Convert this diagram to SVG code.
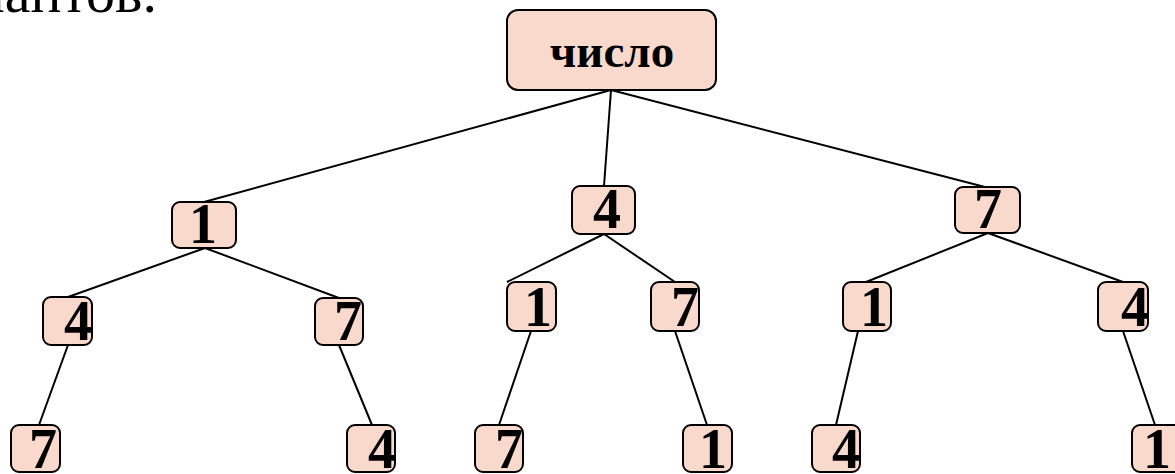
<svg xmlns="http://www.w3.org/2000/svg" width="1175" height="474" viewBox="0 0 1175 474">
  <style>
    .box { fill: #F9D9CC; stroke: #000; stroke-width: 2; }
    .num { font-family: "Liberation Serif", "Times New Roman", serif; font-weight: bold; font-size: 56px; fill: #000; text-anchor: middle; }
    .root { font-family: "Liberation Serif", "Times New Roman", serif; font-weight: bold; font-size: 47px; fill: #000; text-anchor: middle; }
    .head { font-family: "Liberation Serif", "Times New Roman", serif; font-size: 58px; fill: #000; text-anchor: end; }
    .edge { stroke: #000; stroke-width: 2; fill: none; }
  </style>
  <rect width="1175" height="474" fill="#fff"/>

  <text class="head" x="157" y="12">вариантов.</text>

  <!-- connectors -->
  <g id="edges" class="edge">
    <line x1="611" y1="90" x2="204" y2="202"/>
    <line x1="611" y1="90" x2="604" y2="186"/>
    <line x1="611" y1="90" x2="985" y2="187"/>
    <line x1="205" y1="248" x2="68" y2="297"/>
    <line x1="205" y1="248" x2="339" y2="298"/>
    <line x1="604" y1="234" x2="507" y2="282"/>
    <line x1="604" y1="234" x2="675" y2="282"/>
    <line x1="988" y1="233" x2="866" y2="282"/>
    <line x1="988" y1="233" x2="1123" y2="282"/>
    <line x1="68" y1="345" x2="35" y2="436"/>
    <line x1="339" y1="345" x2="372" y2="425"/>
    <line x1="531" y1="331" x2="499" y2="425"/>
    <line x1="675" y1="331" x2="707" y2="425"/>
    <line x1="858" y1="331" x2="836" y2="425"/>
    <line x1="1123" y1="331" x2="1155" y2="425"/>
  </g>

  <!-- root -->
  <g id="n-root">
    <rect class="box" x="507" y="10" width="209" height="80" rx="11"/>
    <text class="root" x="612" y="67">число</text>
  </g>

  <!-- level 1 -->
  <g id="n1-1">
    <rect class="box" x="172" y="202" width="64" height="46" rx="8"/>
    <text class="num" x="203" y="243">1</text>
  </g>
  <g id="n1-4">
    <rect class="box" x="572" y="186" width="63" height="48" rx="8"/>
    <text class="num" x="607" y="228">4</text>
  </g>
  <g id="n1-7">
    <rect class="box" x="955" y="187" width="65" height="46" rx="8"/>
    <text class="num" x="988" y="228">7</text>
  </g>

  <!-- level 2 -->
  <g id="n2-14">
    <rect class="box" x="43" y="297" width="49" height="48" rx="8"/>
    <text class="num" x="78" y="340">4</text>
  </g>
  <g id="n2-17">
    <rect class="box" x="315" y="298" width="48" height="47" rx="8"/>
    <text class="num" x="348" y="340">7</text>
  </g>
  <g id="n2-41">
    <rect class="box" x="507" y="282" width="49" height="49" rx="8"/>
    <text class="num" x="538" y="326">1</text>
  </g>
  <g id="n2-47">
    <rect class="box" x="651" y="282" width="48" height="49" rx="8"/>
    <text class="num" x="685" y="326">7</text>
  </g>
  <g id="n2-71">
    <rect class="box" x="843" y="282" width="48" height="49" rx="8"/>
    <text class="num" x="874" y="326">1</text>
  </g>
  <g id="n2-74">
    <rect class="box" x="1098" y="282" width="50" height="49" rx="8"/>
    <text class="num" x="1135" y="326">4</text>
  </g>

  <!-- level 3 -->
  <g id="n3-147">
    <rect class="box" x="11" y="425" width="49" height="47" rx="8"/>
    <text class="num" x="43" y="468">7</text>
  </g>
  <g id="n3-174">
    <rect class="box" x="347" y="425" width="48" height="47" rx="8"/>
    <text class="num" x="382" y="468">4</text>
  </g>
  <g id="n3-417">
    <rect class="box" x="475" y="425" width="48" height="47" rx="8"/>
    <text class="num" x="509" y="468">7</text>
  </g>
  <g id="n3-471">
    <rect class="box" x="683" y="425" width="49" height="47" rx="8"/>
    <text class="num" x="713" y="468">1</text>
  </g>
  <g id="n3-714">
    <rect class="box" x="812" y="425" width="48" height="47" rx="8"/>
    <text class="num" x="846" y="468">4</text>
  </g>
  <g id="n3-741">
    <rect class="box" x="1132" y="425" width="50" height="47" rx="8"/>
    <text class="num" x="1157" y="468">1</text>
  </g>
</svg>
